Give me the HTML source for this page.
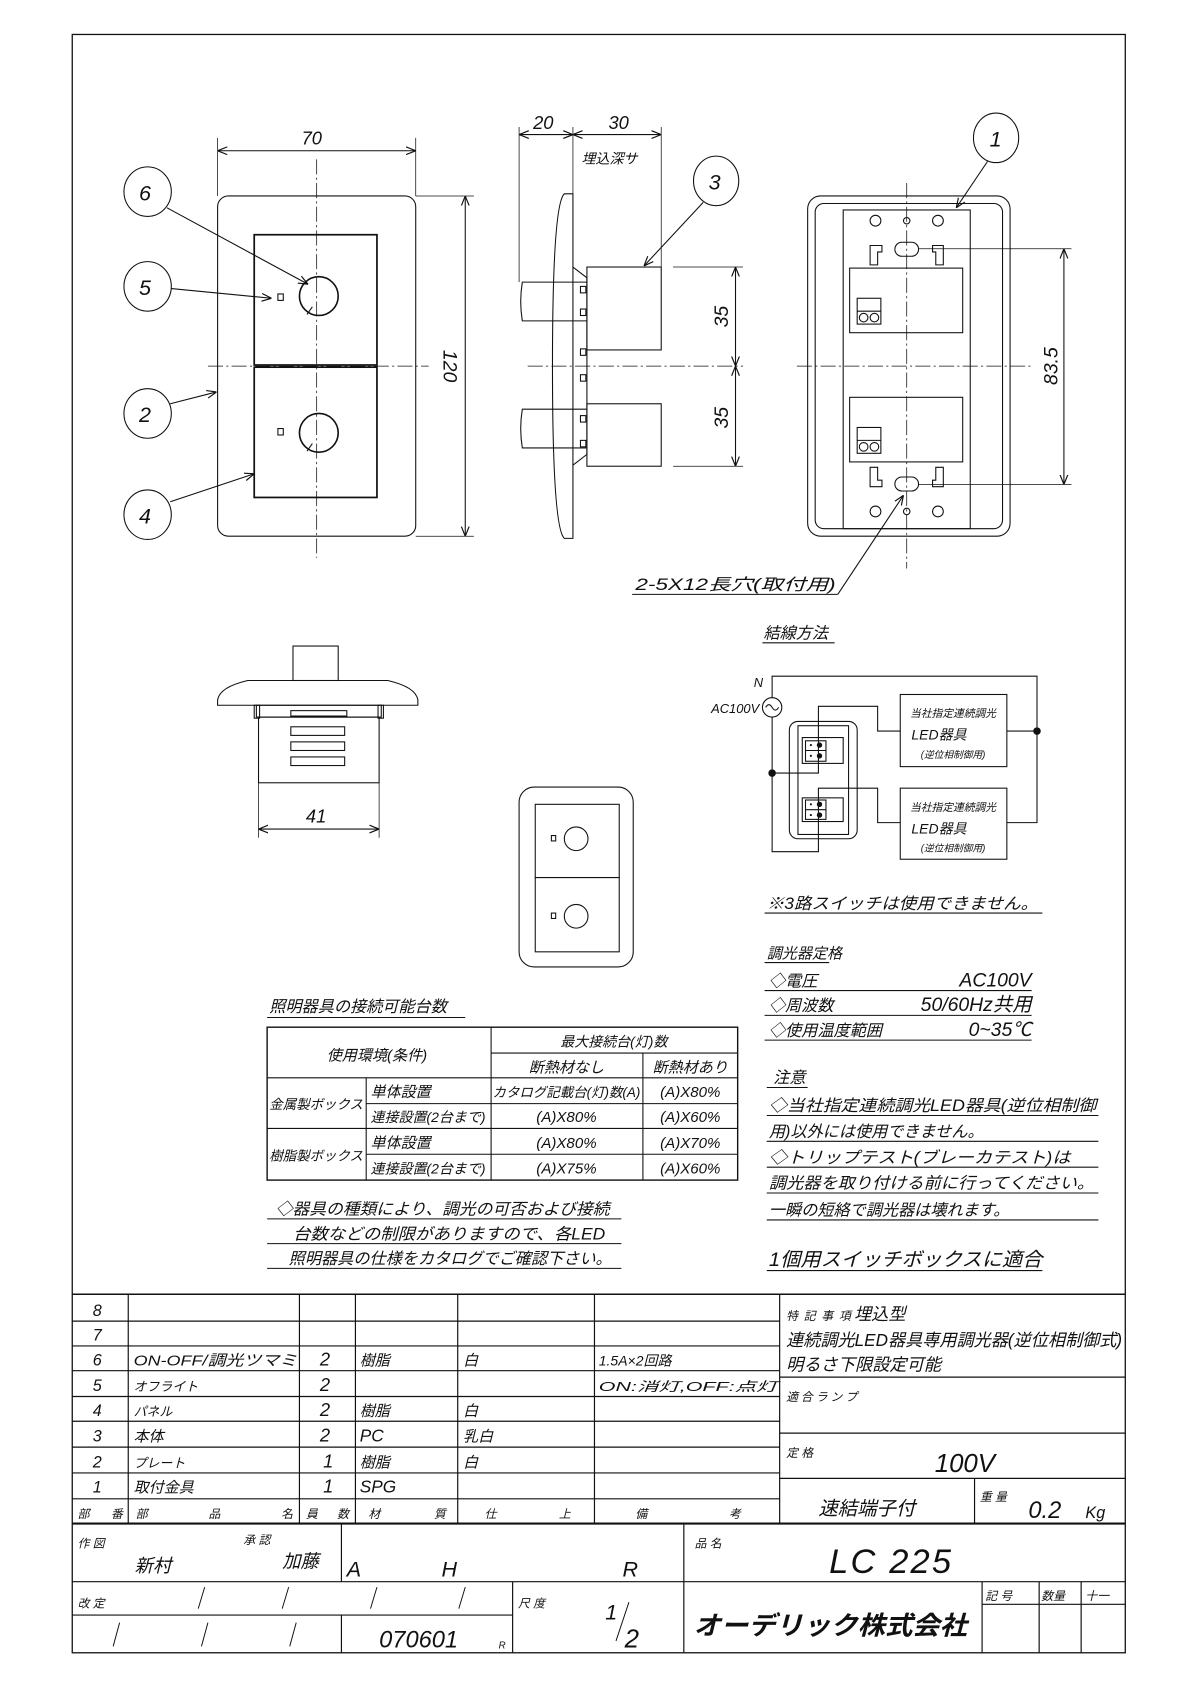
<!DOCTYPE html>
<html><head><meta charset="utf-8"><style>
html,body{margin:0;padding:0;background:#fff}
svg{display:block}
text{font-family:"Liberation Sans","Noto Sans CJK JP",sans-serif;fill:#111;font-style:italic}
</style></head><body>
<svg width="1190" height="1684" viewBox="0 0 1105 1564" xmlns="http://www.w3.org/2000/svg">
<defs>
<marker id="a" viewBox="0 0 10 10" refX="10" refY="5" markerWidth="9" markerHeight="9" orient="auto-start-reverse" markerUnits="userSpaceOnUse"><path d="M0,1 L10,5 L0,9" fill="none" stroke="#111" stroke-width="1.2"/></marker>
</defs>
<g fill="none" stroke="#111" stroke-width="1">
<rect x="67" y="32" width="978" height="1503" stroke-width="1.2"/>

<!-- FRONT VIEW -->
<rect x="202" y="182" width="184" height="316" rx="10"/>
<rect x="236" y="218" width="114" height="121" stroke-width="1.6"/>
<rect x="236" y="341" width="114" height="121" stroke-width="1.6"/>
<line x1="294" y1="148" x2="294" y2="518" stroke-dasharray="14,3,2,3" stroke-width="0.7"/>
<line x1="193" y1="340" x2="398" y2="340" stroke-dasharray="14,3,2,3" stroke-width="0.7"/>
<circle cx="296" cy="275" r="18" stroke-width="1.5"/><line x1="285" y1="292" x2="290" y2="285"/>
<circle cx="296" cy="402" r="18" stroke-width="1.5"/><line x1="285" y1="419" x2="290" y2="412"/>
<rect x="258" y="273" width="5" height="6"/><rect x="258" y="398" width="5" height="6"/>
<line x1="202" y1="128" x2="202" y2="182" stroke-width="0.7"/><line x1="386" y1="128" x2="386" y2="182" stroke-width="0.7"/>
<line x1="202" y1="140" x2="386" y2="140" marker-start="url(#a)" marker-end="url(#a)"/>
<line x1="386" y1="182" x2="440" y2="182" stroke-width="0.7"/><line x1="386" y1="498" x2="440" y2="498" stroke-width="0.7"/>
<line x1="432" y1="182" x2="432" y2="498" marker-start="url(#a)" marker-end="url(#a)"/>
<ellipse cx="137" cy="178" rx="22" ry="23"/><line x1="155" y1="193" x2="286" y2="264" marker-end="url(#a)"/>
<ellipse cx="137" cy="266" rx="22" ry="23"/><line x1="159" y1="268" x2="252" y2="277" marker-end="url(#a)"/>
<ellipse cx="137" cy="384" rx="22" ry="23"/><line x1="158" y1="375" x2="201" y2="364" marker-end="url(#a)"/>
<ellipse cx="137" cy="478" rx="22" ry="23"/><line x1="158" y1="466" x2="236" y2="440" marker-end="url(#a)"/>

<!-- SIDE VIEW -->
<path d="M532,180 L532,500 L524,500 Q513,490 513,340 Q513,190 524,180 Z"/>
<path d="M532,248 L545,258 L545,422 L532,432"/>
<rect x="545" y="248" width="69" height="77"/>
<rect x="545" y="375" width="69" height="58"/>
<path d="M545,262 L485,262 Q482,280 485,298 L545,298"/>
<path d="M545,380 L485,380 Q482,398 485,416 L545,416"/>
<rect x="539" y="266" width="5" height="6"/><rect x="539" y="287" width="5" height="6"/>
<rect x="539" y="324" width="5" height="6"/><rect x="539" y="348" width="5" height="6"/>
<rect x="539" y="386" width="5" height="6"/><rect x="539" y="409" width="5" height="6"/>
<line x1="490" y1="340" x2="690" y2="340" stroke-dasharray="14,3,2,3" stroke-width="0.7"/>
<line x1="482" y1="118" x2="482" y2="262" stroke-width="0.7"/><line x1="532" y1="118" x2="532" y2="180" stroke-width="0.7"/><line x1="614" y1="118" x2="614" y2="248" stroke-width="0.7"/>
<line x1="482" y1="125" x2="532" y2="125" marker-start="url(#a)" marker-end="url(#a)"/>
<line x1="532" y1="125" x2="614" y2="125" marker-start="url(#a)" marker-end="url(#a)"/>
<line x1="625" y1="248" x2="690" y2="248" stroke-width="0.7"/><line x1="625" y1="433" x2="690" y2="433" stroke-width="0.7"/>
<line x1="683" y1="248" x2="683" y2="340" marker-start="url(#a)" marker-end="url(#a)"/>
<line x1="683" y1="340" x2="683" y2="433" marker-start="url(#a)" marker-end="url(#a)"/>
<ellipse cx="665" cy="168" rx="21" ry="23"/><line x1="653" y1="188" x2="598" y2="247" marker-end="url(#a)"/>

<!-- BACK VIEW -->
<rect x="750" y="182" width="188" height="316" rx="12"/>
<rect x="757" y="189" width="174" height="302" rx="8"/>
<rect x="783" y="195" width="118" height="296"/>
<line x1="842" y1="170" x2="842" y2="528" stroke-dasharray="14,3,2,3" stroke-width="0.7"/>
<line x1="740" y1="340" x2="960" y2="340" stroke-dasharray="14,3,2,3" stroke-width="0.7"/>
<circle cx="813" cy="205" r="5"/><circle cx="842" cy="205" r="3"/><circle cx="871" cy="205" r="5"/>
<circle cx="813" cy="475" r="5"/><circle cx="842" cy="475" r="3"/><circle cx="871" cy="475" r="5"/>
<rect x="831" y="225" width="22" height="13" rx="6.5"/><rect x="831" y="443" width="22" height="13" rx="6.5"/>
<path d="M808,246 L808,228 L819,228 L819,234 L815,234 L815,246 Z M866,228 L876,228 L876,246 L869,246 L869,234 L866,234 Z"/>
<path d="M808,434 L808,452 L819,452 L819,446 L815,446 L815,434 Z M866,452 L876,452 L876,434 L869,434 L869,446 L866,446 Z"/>
<rect x="789" y="249" width="105" height="60"/>
<rect x="789" y="369" width="105" height="60"/>
<rect x="796" y="277" width="22" height="24"/><line x1="796" y1="289" x2="818" y2="289"/><circle cx="802" cy="295" r="4"/><circle cx="812" cy="295" r="4"/>
<rect x="796" y="397" width="22" height="24"/><line x1="796" y1="409" x2="818" y2="409"/><circle cx="802" cy="415" r="4"/><circle cx="812" cy="415" r="4"/>
<line x1="853" y1="231" x2="995" y2="231" stroke-width="0.7"/><line x1="853" y1="450" x2="995" y2="450" stroke-width="0.7"/>
<line x1="988" y1="231" x2="988" y2="450" marker-start="url(#a)" marker-end="url(#a)"/>
<ellipse cx="925" cy="128" rx="21" ry="23"/><line x1="917" y1="150" x2="888" y2="193" marker-end="url(#a)"/>
<line x1="587" y1="552" x2="778" y2="552"/><line x1="778" y1="552" x2="839" y2="460" marker-end="url(#a)"/>

<!-- TOP VIEW -->
<rect x="272" y="600" width="42" height="32"/>
<path d="M230,632 L360,632 Q386,638 388,650 L388,655 L202,655 L202,650 Q204,638 230,632 Z"/>
<rect x="238" y="655" width="116" height="11"/>
<rect x="240" y="666" width="112" height="61"/>
<rect x="270" y="660" width="52" height="5"/>
<rect x="270" y="675" width="50" height="8"/><rect x="270" y="689" width="50" height="8"/><rect x="270" y="703" width="50" height="8"/>
<rect x="236" y="655" width="5" height="12"/><rect x="351" y="655" width="5" height="12"/>
<line x1="240" y1="727" x2="240" y2="778" stroke-width="0.7"/><line x1="352" y1="727" x2="352" y2="778" stroke-width="0.7"/>
<line x1="240" y1="770" x2="352" y2="770" marker-start="url(#a)" marker-end="url(#a)"/>

<!-- SMALL FRONT -->
<rect x="482" y="731" width="106" height="167" rx="14"/>
<rect x="497" y="747" width="78" height="68"/><rect x="497" y="815" width="78" height="69"/>
<circle cx="535" cy="779" r="11"/><rect x="512" y="776" width="4" height="5"/>
<circle cx="535" cy="851" r="11"/><rect x="512" y="848" width="4" height="5"/>

<!-- WIRING -->
<line x1="708" y1="597" x2="775" y2="597"/>
<polyline points="717,648 717,628 963,628 963,764 935,764"/>
<line x1="935" y1="679" x2="963" y2="679"/>
<circle cx="717" cy="657" r="9"/>
<path d="M711,657 q3,-5 6,0 t6,0"/>
<polyline points="717,666 717,791 760,791 760,732 815,732 815,764 836,764"/>
<polyline points="717,718 760,718 760,656 815,656 815,679 836,679"/>
<rect x="836" y="645" width="99" height="67"/>
<rect x="836" y="732" width="99" height="66"/>
<rect x="733" y="670" width="63" height="109" rx="8"/>
<rect x="741" y="674" width="47" height="101"/>
<rect x="745" y="685" width="38" height="24"/><rect x="745" y="741" width="38" height="22"/>
<rect x="748" y="688" width="19" height="19"/><line x1="748" y1="697" x2="767" y2="697"/>
<rect x="748" y="743" width="19" height="18"/><line x1="748" y1="752" x2="767" y2="752"/>
</g>
<g fill="#111">
<circle cx="717" cy="718" r="3.5"/><circle cx="963" cy="679" r="3.5"/>
<circle cx="761" cy="692" r="2.5"/><circle cx="761" cy="702" r="2.5"/><circle cx="761" cy="747" r="2.5"/><circle cx="761" cy="757" r="2.5"/>
<circle cx="753" cy="692" r="1"/><circle cx="753" cy="702" r="1"/><circle cx="753" cy="747" r="1"/><circle cx="753" cy="757" r="1"/>
</g>
<g fill="none" stroke="#111" stroke-width="1">
<line x1="710" y1="848" x2="968" y2="848"/>
<line x1="710" y1="894" x2="770" y2="894"/>
<line x1="710" y1="920" x2="958" y2="920"/><line x1="710" y1="943" x2="958" y2="943"/><line x1="710" y1="966" x2="958" y2="966"/>
<line x1="712" y1="1010" x2="750" y2="1010"/>
<line x1="712" y1="1036" x2="1020" y2="1036"/><line x1="712" y1="1060" x2="1020" y2="1060"/><line x1="712" y1="1084" x2="1020" y2="1084"/><line x1="712" y1="1108" x2="1020" y2="1108"/><line x1="712" y1="1133" x2="1020" y2="1133"/>
<line x1="712" y1="1180" x2="968" y2="1180"/>

<!-- LEFT TABLE -->
<line x1="248" y1="945" x2="432" y2="945"/>
<rect x="248" y="954" width="437" height="142" stroke-width="1.3"/>
<line x1="456" y1="954" x2="456" y2="1096"/><line x1="597" y1="978" x2="597" y2="1096"/><line x1="340" y1="1001" x2="340" y2="1096"/>
<line x1="456" y1="978" x2="685" y2="978"/><line x1="248" y1="1001" x2="685" y2="1001"/><line x1="340" y1="1025" x2="685" y2="1025"/>
<line x1="248" y1="1048" x2="685" y2="1048"/><line x1="340" y1="1072" x2="685" y2="1072"/>
<line x1="248" y1="1132" x2="577" y2="1132"/><line x1="248" y1="1155" x2="577" y2="1155"/><line x1="248" y1="1178" x2="577" y2="1178"/>

<!-- TITLE BLOCK -->
<line x1="67" y1="1202" x2="1045" y2="1202" stroke-width="1.4"/>
<g stroke-width="1.1">
<line x1="67" y1="1227" x2="724" y2="1227"/><line x1="67" y1="1250" x2="724" y2="1250"/><line x1="67" y1="1273" x2="724" y2="1273"/>
<line x1="67" y1="1297" x2="724" y2="1297"/><line x1="67" y1="1320" x2="724" y2="1320"/><line x1="67" y1="1344" x2="724" y2="1344"/>
<line x1="67" y1="1368" x2="724" y2="1368"/><line x1="67" y1="1392" x2="724" y2="1392"/>
<line x1="119" y1="1202" x2="119" y2="1415"/><line x1="278" y1="1202" x2="278" y2="1415"/><line x1="330" y1="1202" x2="330" y2="1415"/>
<line x1="425" y1="1202" x2="425" y2="1415"/><line x1="552" y1="1202" x2="552" y2="1415"/><line x1="724" y1="1202" x2="724" y2="1415"/>
<line x1="724" y1="1279" x2="1045" y2="1279"/><line x1="724" y1="1331" x2="1045" y2="1331"/><line x1="724" y1="1373" x2="1045" y2="1373"/>
<line x1="905" y1="1373" x2="905" y2="1415"/>
</g>
<line x1="67" y1="1415" x2="1045" y2="1415" stroke-width="2"/>
<g stroke-width="1.1">
<line x1="67" y1="1469" x2="1045" y2="1469"/><line x1="67" y1="1500" x2="476" y2="1500"/>
<line x1="317" y1="1415" x2="317" y2="1469"/><line x1="635" y1="1415" x2="635" y2="1535"/>
<line x1="476" y1="1469" x2="476" y2="1535"/><line x1="317" y1="1500" x2="317" y2="1535"/>
<line x1="912" y1="1469" x2="912" y2="1535"/><line x1="965" y1="1469" x2="965" y2="1535"/><line x1="1004" y1="1469" x2="1004" y2="1535"/>
<line x1="912" y1="1490" x2="1045" y2="1490"/>
</g>
<g stroke-width="0.9">
<line x1="190" y1="1474" x2="184" y2="1494"/><line x1="268" y1="1474" x2="262" y2="1494"/><line x1="350" y1="1474" x2="344" y2="1494"/><line x1="432" y1="1474" x2="426" y2="1494"/>
<line x1="111" y1="1507" x2="105" y2="1529"/><line x1="193" y1="1507" x2="187" y2="1529"/><line x1="275" y1="1507" x2="269" y2="1529"/>
<line x1="584" y1="1488" x2="572" y2="1524"/>
</g>
</g>

<!-- TEXT -->
<g font-size="17">
<text x="280" y="134">70</text>
<text x="495" y="120">20</text><text x="565" y="120">30</text>
<text x="540" y="152" font-size="13">埋込深サ</text>
<text transform="translate(412,340) rotate(90)" text-anchor="middle" font-size="18">120</text>
<text transform="translate(676,294) rotate(-90)" text-anchor="middle" font-size="18">35</text>
<text transform="translate(676,388) rotate(-90)" text-anchor="middle" font-size="18">35</text>
<text transform="translate(982,340) rotate(-90)" text-anchor="middle" font-size="18">83.5</text>
<text x="129" y="186" font-size="20">6</text><text x="129" y="274" font-size="20">5</text>
<text x="129" y="392" font-size="20">2</text><text x="129" y="486" font-size="20">4</text>
<text x="658" y="176" font-size="20">3</text><text x="919" y="136" font-size="20">1</text>
<text x="590" y="548" font-size="15" textLength="186" lengthAdjust="spacingAndGlyphs">2-5X12長穴(取付用)</text>
<text x="284" y="764">41</text>
<text x="709" y="593" font-size="15">結線方法</text>
<text x="700" y="638" font-size="12">N</text>
<text x="705" y="662" font-size="12" text-anchor="end">AC100V</text>
<g font-size="10" text-anchor="middle">
<text x="885" y="666">当社指定連続調光</text><text x="885" y="704" font-size="9">(逆位相制御用)</text>
<text x="885" y="753">当社指定連続調光</text><text x="885" y="791" font-size="9">(逆位相制御用)</text>
</g>
<text x="872" y="687" font-size="13" text-anchor="middle">LED器具</text>
<text x="872" y="774" font-size="13" text-anchor="middle">LED器具</text>
<text x="712" y="844" font-size="15" textLength="252" lengthAdjust="spacingAndGlyphs">※3路スイッチは使用できません。</text>
<text x="712" y="890" font-size="14">調光器定格</text>
<text x="714" y="916" font-size="15">◇電圧</text><text x="958" y="916" text-anchor="end" font-size="18">AC100V</text>
<text x="714" y="939" font-size="15">◇周波数</text><text x="958" y="939" text-anchor="end" font-size="18">50/60Hz共用</text>
<text x="714" y="962" font-size="15">◇使用温度範囲</text><text x="958" y="962" text-anchor="end" font-size="18">0~35℃</text>
<text x="718" y="1006" font-size="15">注意</text>
<g font-size="15">
<text x="714" y="1032" textLength="304" lengthAdjust="spacingAndGlyphs">◇当社指定連続調光LED器具(逆位相制御</text>
<text x="714" y="1056">用)以外には使用できません。</text>
<text x="714" y="1080" textLength="280" lengthAdjust="spacingAndGlyphs">◇トリップテスト(ブレーカテスト)は</text>
<text x="714" y="1104" textLength="302" lengthAdjust="spacingAndGlyphs">調光器を取り付ける前に行ってください。</text>
<text x="714" y="1129">一瞬の短絡で調光器は壊れます。</text>
<text x="714" y="1176" font-size="18" textLength="254" lengthAdjust="spacingAndGlyphs">1個用スイッチボックスに適合</text>
</g>
<text x="250" y="940" font-size="15">照明器具の接続可能台数</text>
<g font-size="14">
<text x="350" y="985" text-anchor="middle">使用環境(条件)</text>
<text x="570" y="972" text-anchor="middle" font-size="13">最大接続台(灯)数</text>
<text x="526" y="996" text-anchor="middle">断熱材なし</text>
<text x="641" y="996" text-anchor="middle">断熱材あり</text>
<text x="250" y="1030" font-size="12.5">金属製ボックス</text><text x="250" y="1078" font-size="12.5">樹脂製ボックス</text>
<text x="344" y="1019">単体設置</text><text x="344" y="1042" font-size="13">連接設置(2台まで)</text>
<text x="344" y="1066">単体設置</text><text x="344" y="1090" font-size="13">連接設置(2台まで)</text>
<text x="526" y="1019" text-anchor="middle" font-size="12.5">カタログ記載台(灯)数(A)</text>
<text x="641" y="1019" text-anchor="middle">(A)X80%</text>
<text x="526" y="1042" text-anchor="middle">(A)X80%</text><text x="641" y="1042" text-anchor="middle">(A)X60%</text>
<text x="526" y="1066" text-anchor="middle">(A)X80%</text><text x="641" y="1066" text-anchor="middle">(A)X70%</text>
<text x="526" y="1090" text-anchor="middle">(A)X75%</text><text x="641" y="1090" text-anchor="middle">(A)X60%</text>
</g>
<g font-size="15">
<text x="256" y="1128" textLength="310" lengthAdjust="spacingAndGlyphs">◇器具の種類により、調光の可否および接続</text>
<text x="272" y="1151" textLength="290" lengthAdjust="spacingAndGlyphs">台数などの制限がありますので、各LED</text>
<text x="268" y="1174" textLength="300" lengthAdjust="spacingAndGlyphs">照明器具の仕様をカタログでご確認下さい。</text>
</g>
<!-- title block text -->
<g font-size="15" font-style="normal">
<text x="86" y="1222">8</text><text x="86" y="1245">7</text><text x="86" y="1268">6</text><text x="86" y="1292">5</text>
<text x="86" y="1315">4</text><text x="86" y="1339">3</text><text x="86" y="1363">2</text><text x="86" y="1386">1</text>
</g>
<g font-size="14">
<text x="124" y="1268" textLength="152" lengthAdjust="spacingAndGlyphs">ON-OFF/調光ツマミ</text><text x="124" y="1292" font-size="12">オフライト</text>
<text x="124" y="1315" font-size="12">パネル</text><text x="124" y="1339">本体</text>
<text x="124" y="1363" font-size="12">プレート</text><text x="124" y="1386">取付金具</text>
<text x="297" y="1268" font-size="17">2</text><text x="297" y="1292" font-size="17">2</text><text x="297" y="1315" font-size="17">2</text>
<text x="297" y="1339" font-size="17">2</text><text x="300" y="1363" font-size="17">1</text><text x="300" y="1386" font-size="17">1</text>
<text x="334" y="1268">樹脂</text><text x="334" y="1315">樹脂</text><text x="334" y="1339" font-size="16">PC</text>
<text x="334" y="1363">樹脂</text><text x="334" y="1386" font-size="16">SPG</text>
<text x="430" y="1268">白</text><text x="430" y="1315">白</text><text x="430" y="1339">乳白</text><text x="430" y="1363">白</text>
<text x="556" y="1268" font-size="13">1.5A×2回路</text>
<text x="556" y="1292" font-size="12" textLength="166" lengthAdjust="spacingAndGlyphs">ON:消灯,OFF:点灯</text>
</g>
<g font-size="11" font-style="normal">
<text x="72" y="1410" textLength="42" lengthAdjust="spacing">部 番</text>
<text x="126" y="1410" textLength="146" lengthAdjust="spacing">部 品 名</text>
<text x="284" y="1410" textLength="40" lengthAdjust="spacing">員 数</text>
<text x="342" y="1410" textLength="72" lengthAdjust="spacing">材 質</text>
<text x="450" y="1410" textLength="80" lengthAdjust="spacing">仕 上</text>
<text x="590" y="1410" textLength="98" lengthAdjust="spacing">備 考</text>
<text x="730" y="1226" textLength="60" lengthAdjust="spacing">特 記 事 項</text>
<text x="730" y="1301" textLength="66" lengthAdjust="spacing">適 合 ラ ン プ</text>
<text x="730" y="1353">定 格</text>
<text x="910" y="1394">重 量</text>
<text x="72" y="1437">作 図</text><text x="226" y="1434">承 認</text>
<text x="645" y="1437">品 名</text>
<text x="72" y="1493">改 定</text><text x="481" y="1493">尺 度</text>
<text x="915" y="1486">記 号</text><text x="967" y="1486">数量</text><text x="1008" y="1486">十一</text>
</g>
<text x="793" y="1226" font-size="16">埋込型</text>
<text x="730" y="1250" font-size="16" textLength="312" lengthAdjust="spacingAndGlyphs">連続調光LED器具専用調光器(逆位相制御式)</text>
<text x="730" y="1273" font-size="16">明るさ下限設定可能</text>
<text x="868" y="1367" font-size="24">100V</text>
<text x="760" y="1407" font-size="18">速結端子付</text>
<text x="955" y="1410" font-size="22">0.2</text><text x="1008" y="1410" font-size="15" font-style="normal">Kg</text>
<text x="125" y="1460" font-size="17" font-style="normal">新村</text><text x="262" y="1456" font-size="17" font-style="normal">加藤</text>
<text x="322" y="1464" font-size="20" font-style="normal">A</text><text x="410" y="1464" font-size="20" font-style="normal">H</text><text x="578" y="1464" font-size="20" font-style="normal">R</text>
<text x="770" y="1461" font-size="32" letter-spacing="2">LC 225</text>
<text x="352" y="1530" font-size="22">070601</text><text x="463" y="1531" font-size="9">R</text>
<text x="562" y="1504" font-size="20">1</text><text x="580" y="1530" font-size="24">2</text>
<text x="644" y="1518" font-size="24" font-weight="bold" font-style="normal" textLength="254" lengthAdjust="spacingAndGlyphs">オーデリック株式会社</text>
</g>
</svg>
</body></html>
